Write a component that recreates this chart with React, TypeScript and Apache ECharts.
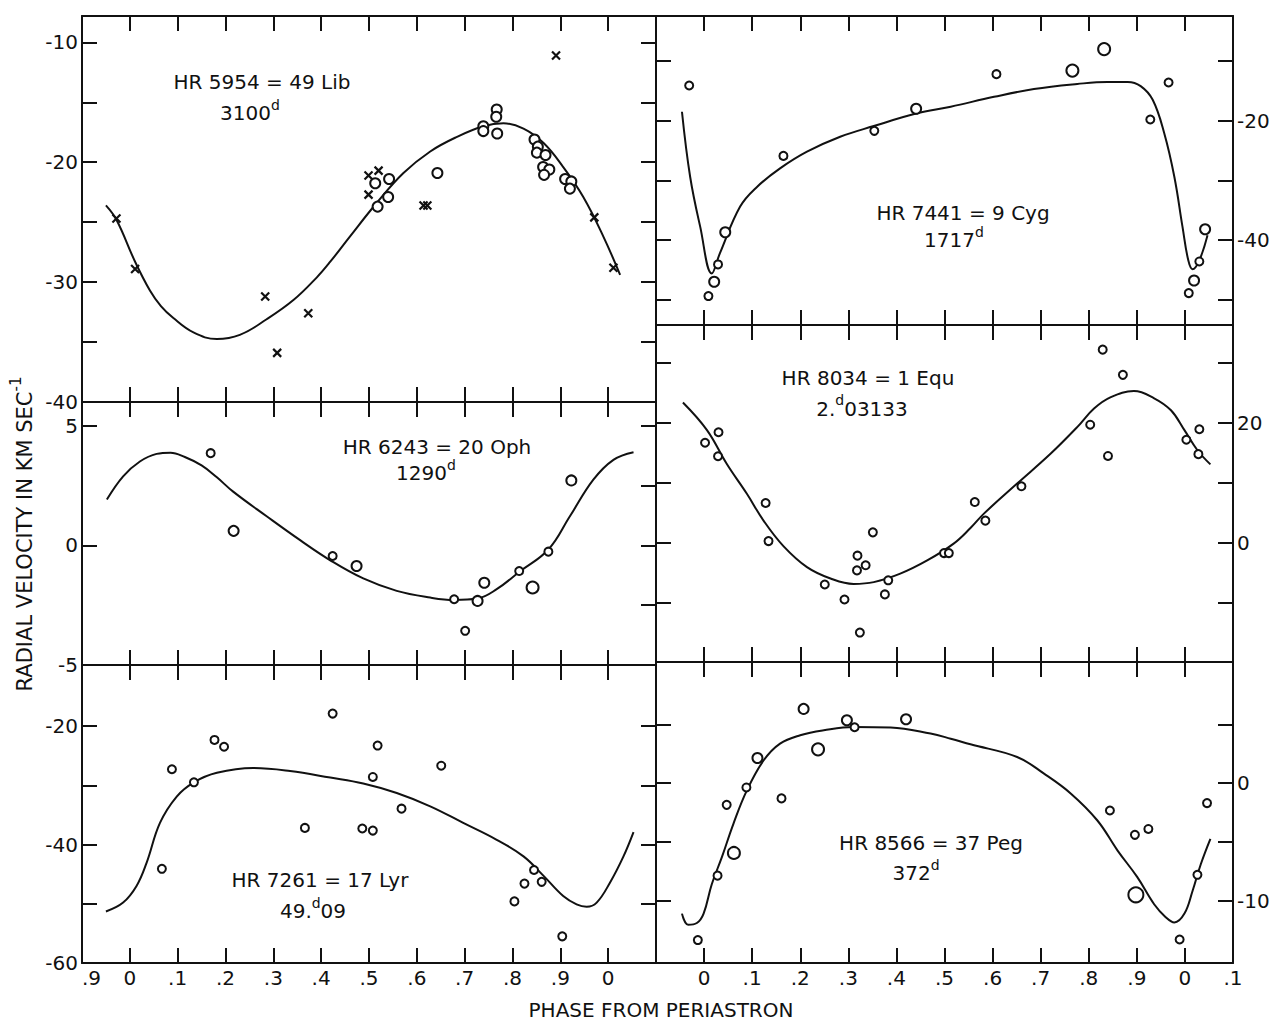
import React, { useEffect, useRef } from 'react';
import * as echarts from 'echarts';

// Phase from periastron; the axis runs over a little more than one cycle.
const phaseTicks = [-0.1, 0, 0.1, 0.2, 0.3, 0.4, 0.5, 0.6, 0.7, 0.8, 0.9, 1.0, 1.1];
const phaseTickLabels = ['.9', '0', '.1', '.2', '.3', '.4', '.5', '.6', '.7', '.8', '.9', '0', '.1'];

// HR 5954 = 49 Lib, P = 3100 d   [phase, km/s]  (circles: [phase, km/s, weight])
const lib49Curve = [
  [-0.05, -23.6], [-0.028, -24.8], [0.011, -28.3], [0.042, -30.7], [0.065, -32.0], [0.091, -33.0],
  [0.133, -34.2], [0.182, -34.75], [0.23, -34.4], [0.286, -33.1], [0.342, -31.5], [0.391, -29.6],
  [0.419, -28.3], [0.46, -26.2], [0.516, -23.4], [0.572, -20.9], [0.628, -19.1], [0.683, -17.9],
  [0.739, -17.0], [0.781, -16.75], [0.823, -17.2], [0.865, -18.4], [0.906, -20.4], [0.948, -22.9],
  [0.99, -26.2], [1.025, -29.4],
];
const lib49Circles = [
  [0.513, -21.75, 2], [0.542, -21.4, 2], [0.54, -22.9, 2], [0.518, -23.7, 2], [0.643, -20.9, 2],
  [0.739, -17.0, 2], [0.739, -17.4, 2], [0.767, -15.6, 2], [0.766, -16.2, 2], [0.768, -17.6, 2],
  [0.846, -18.1, 2], [0.853, -18.7, 2], [0.851, -19.2, 2], [0.869, -19.4, 2], [0.864, -20.4, 2],
  [0.877, -20.6, 2], [0.866, -21.05, 2], [0.91, -21.4, 2], [0.923, -21.6, 2], [0.92, -22.2, 2],
];
const lib49Crosses = [
  [-0.028, -24.7], [0.011, -28.9], [0.283, -31.2], [0.308, -35.9], [0.373, -32.6], [0.499, -21.1],
  [0.52, -20.7], [0.499, -22.7], [0.614, -23.6], [0.622, -23.6], [0.891, -11.1], [0.971, -24.6],
  [1.011, -28.8],
];
const lib49Range = [-40, -7.8];
const lib49Ticks = [-10, -15, -20, -25, -30, -35];
const lib49Labels = [-10, -20, -30, -40];

// HR 7441 = 9 Cyg, P = 1717 d
const cyg9Curve = [
  [-0.046, -18.5], [-0.029, -29.4], [-0.008, -37.8], [0.016, -45.6], [0.033, -42.2], [0.075, -34.4],
  [0.11, -31.1], [0.158, -28.0], [0.214, -25.2], [0.283, -22.7], [0.353, -20.9], [0.441, -18.8],
  [0.513, -17.65], [0.603, -16.0], [0.686, -14.7], [0.776, -13.85], [0.839, -13.5], [0.881, -13.5],
  [0.908, -14.2], [0.933, -16.5], [0.957, -22.1], [0.978, -29.4], [0.995, -37.8], [1.007, -43.4],
  [1.016, -44.9], [1.03, -43.4], [1.047, -39.2],
];
const cyg9Circles = [
  [-0.031, -14.1, 1], [0.009, -49.4, 1], [0.021, -47.0, 2], [0.029, -44.1, 1], [0.044, -38.7, 2],
  [0.165, -25.9, 1], [0.354, -21.7, 1], [0.441, -18.0, 2], [0.608, -12.2, 1], [0.766, -11.6, 3],
  [0.832, -8.0, 3], [0.928, -19.8, 1], [0.966, -13.6, 1], [1.008, -48.9, 1], [1.019, -46.8, 2],
  [1.03, -43.6, 1], [1.042, -38.2, 2],
];
const cyg9Range = [-54.25, -2.45];
const cyg9Ticks = [-10, -20, -30, -40, -50];
const cyg9Labels = [-20, -40];

// HR 6243 = 20 Oph, P = 1290 d
const oph20Curve = [
  [-0.048, 1.92], [-0.014, 2.89], [0.021, 3.51], [0.056, 3.83], [0.085, 3.88], [0.115, 3.7],
  [0.15, 3.35], [0.182, 2.85], [0.216, 2.25], [0.286, 1.22], [0.356, 0.22], [0.419, -0.62],
  [0.488, -1.38], [0.558, -1.9], [0.628, -2.18], [0.678, -2.28], [0.727, -2.22], [0.767, -1.83],
  [0.814, -1.11], [0.875, -0.17], [0.92, 1.22], [0.969, 2.75], [1.011, 3.58], [1.053, 3.9],
];
const oph20Circles = [
  [0.169, 3.86, 1], [0.217, 0.61, 2], [0.424, -0.44, 1], [0.474, -0.86, 2], [0.678, -2.25, 1],
  [0.701, -3.57, 1], [0.727, -2.32, 2], [0.741, -1.56, 2], [0.814, -1.07, 1], [0.842, -1.76, 3],
  [0.875, -0.26, 1], [0.923, 2.72, 2],
];
const oph20Range = [-5, 6];
const oph20TicksLeft = [5, 0];
const oph20TicksRight = [5, 2.5, 0, -2.5];
const oph20Labels = [5, 0, -5];

// HR 8034 = 1 Equ, P = 2.03133 d
const equ1Curve = [
  [-0.044, 23.4], [0.006, 18.8], [0.047, 13.2], [0.089, 8.2], [0.124, 3.7], [0.165, -0.5],
  [0.214, -4.0], [0.263, -5.9], [0.311, -6.8], [0.353, -6.5], [0.408, -5.1], [0.464, -2.9],
  [0.519, -0.1], [0.554, 2.5], [0.582, 4.9], [0.651, 9.9], [0.721, 14.9], [0.776, 19.3],
  [0.811, 22.4], [0.846, 24.3], [0.894, 25.3], [0.936, 24.1], [0.971, 22.1], [0.999, 18.8],
  [1.026, 15.45], [1.053, 13.1],
];
const equ1Circles = [
  [0.002, 16.7, 1], [0.03, 18.45, 1], [0.029, 14.45, 1], [0.128, 6.67, 1], [0.134, 0.33, 1],
  [0.251, -6.9, 1], [0.292, -9.4, 1], [0.324, -14.9, 1], [0.318, -4.55, 1], [0.319, -2.1, 1],
  [0.336, -3.7, 1], [0.351, 1.78, 1], [0.383, -6.2, 1], [0.376, -8.55, 1], [0.499, -1.67, 1],
  [0.509, -1.67, 1], [0.563, 6.83, 1], [0.585, 3.73, 1], [0.66, 9.45, 1], [0.803, 19.7, 1],
  [0.829, 32.2, 1], [0.84, 14.5, 1], [0.871, 28.0, 1], [1.003, 17.2, 1], [1.03, 18.95, 1],
  [1.028, 14.8, 1],
];
const equ1Range = [-19.8, 36.3];
const equ1Ticks = [30, 20, 10, 0, -10];
const equ1Labels = [20, 0];

// HR 7261 = 17 Lyr, P = 49.09 d
const lyr17Curve = [
  [-0.05, -51.3], [-0.014, -49.8], [0.014, -47.0], [0.035, -43.1], [0.063, -36.35], [0.098, -31.9],
  [0.134, -29.5], [0.182, -27.9], [0.258, -27.1], [0.335, -27.6], [0.419, -28.7], [0.488, -29.7],
  [0.558, -31.3], [0.628, -33.55], [0.697, -36.35], [0.767, -39.2], [0.823, -42.0], [0.865, -45.3],
  [0.906, -48.7], [0.934, -50.1], [0.955, -50.5], [0.976, -49.8], [1.004, -46.4], [1.032, -42.0],
  [1.053, -37.9],
];
const lyr17Circles = [
  [0.088, -27.3, 1], [0.134, -29.5, 1], [0.177, -22.35, 1], [0.197, -23.5, 1], [0.067, -44.1, 1],
  [0.366, -37.2, 1], [0.424, -17.9, 1], [0.518, -23.3, 1], [0.508, -28.6, 1], [0.568, -33.95, 1],
  [0.651, -26.7, 1], [0.486, -37.3, 1], [0.508, -37.65, 1], [0.845, -44.3, 1], [0.825, -46.6, 1],
  [0.861, -46.3, 1], [0.804, -49.6, 1], [0.904, -55.5, 1],
];
const lyr17Range = [-60, -9.7];
const lyr17Ticks = [-20, -30, -40, -50];
const lyr17Labels = [-20, -40, -60];

// HR 8566 = 37 Peg, P = 372 d
const peg37Curve = [
  [-0.046, -11.1], [-0.033, -12.05], [-0.015, -11.9], [-0.001, -11.1], [0.016, -8.6], [0.037, -6.3],
  [0.061, -3.46], [0.089, -0.62], [0.124, 1.94], [0.158, 3.36], [0.2, 4.07], [0.249, 4.49],
  [0.311, 4.77], [0.388, 4.72], [0.471, 4.21], [0.513, 3.78], [0.554, 3.3], [0.651, 2.22],
  [0.707, 0.8], [0.763, -0.9], [0.818, -3.18], [0.86, -5.74], [0.901, -8.0], [0.936, -10.3],
  [0.96, -11.4], [0.978, -11.85], [0.999, -11.1], [1.016, -9.15], [1.033, -6.9], [1.053, -4.74],
];
const peg37Circles = [
  [-0.013, -13.35, 1], [0.028, -7.87, 1], [0.062, -5.94, 3], [0.047, -1.85, 1], [0.088, -0.37, 1],
  [0.111, 2.13, 2], [0.161, -1.3, 1], [0.207, 6.31, 2], [0.237, 2.87, 3], [0.297, 5.35, 2],
  [0.313, 4.75, 1], [0.42, 5.43, 2], [0.844, -2.33, 1], [0.896, -4.4, 1], [0.924, -3.9, 1],
  [0.898, -9.5, 4], [0.989, -13.3, 1], [1.026, -7.8, 1], [1.046, -1.7, 1],
];
const peg37Range = [-15.3, 10.3];
const peg37Ticks = [5, 0, -5, -10];
const peg37Labels = [0, -10];

const yAxisTitle = 'RADIAL VELOCITY IN KM SEC';
const yAxisTitleUnitPower = '-1';
const xAxisTitle = 'PHASE FROM PERIASTRON';

// ---- styling and layout ----
const INK = '#111';
const FONT = '"DejaVu Sans", "Noto Sans", sans-serif';
const symbolPx = [0, 8, 10, 12, 15];
const CROSS = 'path://M0,0L10,10M10,0L0,10';
const NOTE_SIZE = 20;

type Piece = { t: string; sup?: boolean; dy?: number };

const panels = [
  {
    box: [82, 16, 574, 386], range: lib49Range, ticksL: lib49Ticks, ticksR: lib49Ticks,
    labels: lib49Labels, side: 'left', xLabels: null as number[] | null,
    curve: lib49Curve, circles: lib49Circles, crosses: lib49Crosses,
    note: [
      { at: [262, 82], pieces: [{ t: 'HR 5954 = 49 Lib' }] },
      { at: [250, 113], pieces: [{ t: '3100' }, { t: 'd', sup: true }] },
    ],
  },
  {
    box: [656, 16, 577, 309], range: cyg9Range, ticksL: cyg9Ticks, ticksR: cyg9Ticks,
    labels: cyg9Labels, side: 'right', xLabels: null,
    curve: cyg9Curve, circles: cyg9Circles, crosses: null,
    note: [
      { at: [963, 213], pieces: [{ t: 'HR 7441 = 9 Cyg' }] },
      { at: [954, 240], pieces: [{ t: '1717' }, { t: 'd', sup: true }] },
    ],
  },
  {
    box: [82, 402, 574, 263], range: oph20Range, ticksL: oph20TicksLeft, ticksR: oph20TicksRight,
    labels: oph20Labels, side: 'left', xLabels: null,
    curve: oph20Curve, circles: oph20Circles, crosses: null,
    note: [
      { at: [437, 447], pieces: [{ t: 'HR 6243 = 20 Oph' }] },
      { at: [426, 473], pieces: [{ t: '1290' }, { t: 'd', sup: true }] },
    ],
  },
  {
    box: [656, 325, 577, 337], range: equ1Range, ticksL: equ1Ticks, ticksR: equ1Ticks,
    labels: equ1Labels, side: 'right', xLabels: null,
    curve: equ1Curve, circles: equ1Circles, crosses: null,
    note: [
      { at: [868, 378], pieces: [{ t: 'HR 8034 = 1 Equ' }] },
      { at: [862, 409], pieces: [{ t: '2.' }, { t: 'd', sup: true, dy: -9 }, { t: '03133' }] },
    ],
  },
  {
    box: [82, 665, 574, 298], range: lyr17Range, ticksL: lyr17Ticks, ticksR: lyr17Ticks,
    labels: lyr17Labels, side: 'left', xLabels: phaseTicks.slice(0, -1),
    curve: lyr17Curve, circles: lyr17Circles, crosses: null,
    note: [
      { at: [320, 880], pieces: [{ t: 'HR 7261 = 17 Lyr' }] },
      { at: [313, 911], pieces: [{ t: '49.' }, { t: 'd', sup: true, dy: -8 }, { t: '09' }] },
    ],
  },
  {
    box: [656, 662, 577, 301], range: peg37Range, ticksL: peg37Ticks, ticksR: peg37Ticks,
    labels: peg37Labels, side: 'right', xLabels: phaseTicks.slice(1),
    curve: peg37Curve, circles: peg37Circles, crosses: null,
    note: [
      { at: [931, 843], pieces: [{ t: 'HR 8566 = 37 Peg' }] },
      { at: [916, 873], pieces: [{ t: '372' }, { t: 'd', sup: true }] },
    ],
  },
];

let measureCtx: CanvasRenderingContext2D | null = null;
function textWidth(t: string, size: number) {
  if (!measureCtx) measureCtx = document.createElement('canvas').getContext('2d');
  measureCtx!.font = `${size}px ${FONT}`;
  return measureCtx!.measureText(t).width;
}

function textEl(text: string, x: number, y: number, size: number) {
  return {
    type: 'text',
    x,
    y,
    silent: true,
    style: {
      text,
      fontSize: size,
      fontFamily: FONT,
      fill: INK,
      align: 'left',
      verticalAlign: 'middle',
      textAlign: 'left',
      textVerticalAlign: 'middle',
    },
  };
}

// Lays out one line of text centred on (cx, cy); "sup" pieces are set smaller and raised.
function layoutLine(pieces: Piece[], cx: number, cy: number, size: number) {
  const supSize = Math.round(size * 0.72);
  const total = pieces.reduce((s, p) => s + textWidth(p.t, p.sup ? supSize : size), 0);
  let x = cx - total / 2;
  const els: any[] = [];
  for (const p of pieces) {
    const fs = p.sup ? supSize : size;
    els.push(textEl(p.t, x, cy + (p.sup ? p.dy ?? -8 : 0), fs));
    x += textWidth(p.t, fs);
  }
  return els;
}

function phaseLabel(v: number) {
  let best = 0;
  phaseTicks.forEach((t, i) => {
    if (Math.abs(t - v) < Math.abs(phaseTicks[best] - v)) best = i;
  });
  return phaseTickLabels[best];
}

function buildOption() {
  const grid: any[] = [];
  const xAxis: any[] = [];
  const yAxis: any[] = [];
  const series: any[] = [];
  const graphic: any[] = [];

  const frameLine = { show: true, onZero: false, lineStyle: { color: INK, width: 2 } };
  const tickStyle = { color: INK, width: 2 };
  const labelFont = { fontSize: 20, fontFamily: FONT, color: INK };

  panels.forEach((p, i) => {
    const [left, top, width, height] = p.box;
    grid.push({ left, top, width, height, containLabel: false, outerBoundsMode: 'none' });

    const xBase = {
      gridIndex: i,
      type: 'value',
      min: -0.1,
      max: 1.1,
      splitLine: { show: false },
      axisLine: frameLine,
      axisTick: {
        show: true,
        inside: true,
        length: 15,
        customValues: phaseTicks.slice(1, -1),
        lineStyle: tickStyle,
      },
    };
    xAxis.push({
      ...xBase,
      position: 'bottom',
      axisLabel: p.xLabels
        ? {
            show: true,
            customValues: p.xLabels,
            formatter: phaseLabel,
            margin: 5,
            alignMinLabel: p.side === 'left' ? 'left' : undefined,
            ...labelFont,
          }
        : { show: false },
    });
    xAxis.push({ ...xBase, position: 'top', axisLabel: { show: false } });

    const yBase = {
      gridIndex: i,
      type: 'value',
      min: p.range[0],
      max: p.range[1],
      splitLine: { show: false },
      axisLine: frameLine,
    };
    const yLabel = {
      show: true,
      customValues: p.labels,
      formatter: (v: number) => String(v),
      margin: 4,
      ...labelFont,
    };
    yAxis.push({
      ...yBase,
      position: 'left',
      axisTick: { show: true, inside: true, length: 15, customValues: p.ticksL, lineStyle: tickStyle },
      axisLabel: p.side === 'left' ? yLabel : { show: false },
    });
    yAxis.push({
      ...yBase,
      position: 'right',
      axisTick: { show: true, inside: true, length: 15, customValues: p.ticksR, lineStyle: tickStyle },
      axisLabel: p.side === 'right' ? yLabel : { show: false },
    });

    const axisRef = { xAxisIndex: 2 * i, yAxisIndex: 2 * i };
    series.push({
      type: 'line',
      ...axisRef,
      data: p.curve,
      smooth: 0.4,
      showSymbol: false,
      symbol: 'none',
      silent: true,
      lineStyle: { color: INK, width: 2 },
      z: 2,
    });
    series.push({
      type: 'scatter',
      ...axisRef,
      data: p.circles.map(([x, y, w]) => ({ value: [x, y], symbolSize: symbolPx[w] })),
      symbol: 'circle',
      silent: true,
      itemStyle: { color: '#fff', borderColor: INK, borderWidth: 2, opacity: 1 },
      z: 3,
    });
    if (p.crosses) {
      series.push({
        type: 'scatter',
        ...axisRef,
        data: p.crosses,
        symbol: CROSS,
        symbolSize: 8,
        silent: true,
        itemStyle: { color: 'transparent', borderColor: INK, borderWidth: 2.2, opacity: 1 },
        z: 3,
      });
    }

    p.note.forEach((line) => {
      graphic.push(...layoutLine(line.pieces as Piece[], line.at[0], line.at[1], NOTE_SIZE));
    });
  });

  graphic.push({
    type: 'group',
    x: 25,
    y: 534,
    rotation: Math.PI / 2,
    children: layoutLine(
      [{ t: yAxisTitle }, { t: yAxisTitleUnitPower, sup: true, dy: -9 }],
      0,
      0,
      21
    ),
  });
  graphic.push(...layoutLine([{ t: xAxisTitle }], 661, 1010, 20));

  return {
    animation: false,
    backgroundColor: '#fff',
    grid,
    xAxis,
    yAxis,
    series,
    graphic,
  };
}

export default function App() {
  const ref = useRef<HTMLDivElement>(null);
  useEffect(() => {
    const chart = echarts.init(ref.current!, null, { renderer: 'svg' });
    chart.setOption(buildOption() as any);
    return () => chart.dispose();
  }, []);
  return (
    <div
      ref={ref}
      style={{ position: 'absolute', left: 0, top: 0, width: 1276, height: 1023, background: '#fff' }}
    />
  );
}
